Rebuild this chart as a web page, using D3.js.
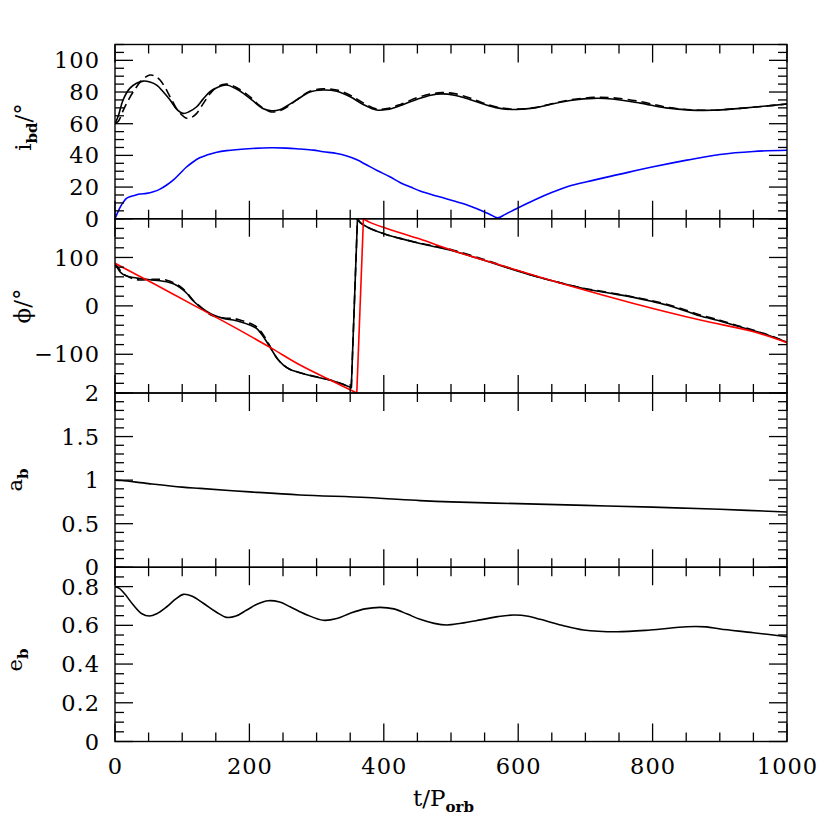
<!DOCTYPE html>
<html><head><meta charset="utf-8">
<script src="https://cdn.jsdelivr.net/npm/d3@7"></script>
<style>body{margin:0;background:#fff}svg{display:block}</style>
</head><body><svg id="c" width="830" height="830"></svg>
<script>
// ---------- data ----------
const inclSolid = [[0,60],[5,65],[12,75],[22,82.3],[32,85.5],[42,86.9],[52,86.3],[62,84.4],[72,80],[82,74.9],[92,69],[101.7,66.5],[110,67.5],[121.6,70.7],[131,75.5],[141.4,80.2],[153,83],[166,84.4],[178,82.5],[191,79.2],[205,74.5],[220.8,69.5],[233,68.2],[245,68.8],[257,71.5],[270,74.9],[290,80],[310,81.3],[330,80.5],[350,77],[370,72],[389.6,68.6],[405,69],[425,71.5],[450,75.5],[470,78],[486,78.8],[505,78],[530,75],[555,71.5],[575,69.5],[598,69],[625,70],[650,72.4],[680,74.8],[712,76],[740,75.6],[781.6,73],[820,70],[856,68.6],[890,68.5],[930,69.7],[965,71],[1000,72.4]];
const inclDashed = [[0,60],[5,61.5],[12.4,68.6],[20,75],[27.3,80.2],[40,87.5],[52,90.7],[60,90],[67,87.6],[75,82.5],[82,77],[95,67.5],[106.7,63.4],[114,64],[121.6,66.5],[131,72.5],[141.4,79],[153,83.5],[166,85],[180,83],[201,77],[215,71.5],[230.8,67.6],[245,68.2],[258,71],[270,75],[290,80.5],[310,82],[330,81.3],[350,78],[370,73],[389.6,69.2],[405,69.6],[425,72.2],[450,76.5],[470,78.8],[486,79.6],[505,79],[530,76],[555,72],[575,70],[598,69.2],[625,70.2],[650,72.6],[680,75.2],[712,76.6],[740,76.4],[781.6,74],[820,70.5],[856,68.8],[890,68.5],[930,69.7],[965,71],[1000,72.4]];
const inclBinary = [[0,0],[4,4],[8,7.5],[12.4,10.5],[17,12.8],[22.3,13.9],[30,14.8],[36.7,15.6],[47,16],[57,17],[67,18.7],[77,21.3],[87,24.5],[96.8,28.6],[106,32.5],[116.6,36],[126,38.5],[136.5,40.2],[150,41.8],[166,43],[198,44.2],[233,44.8],[255,44.6],[275,44],[295,43.3],[310,42.3],[330,41.2],[345,39.6],[360,37.2],[374.7,33.9],[390,30.5],[409,26.5],[424,22.9],[440,20],[454,17.5],[480,14.2],[513.6,10.1],[530,7.8],[543,5.5],[556,3.2],[569.7,0.6],[580,2.6],[598,6.5],[625,12],[652.5,17],[675,20.5],[702,23.4],[750,28],[801,32.8],[851,37],[900,40.6],[950,42.5],[1000,43.2]];
const phiSolidA = [[0,87],[3,80],[7.4,70.5],[12,65],[17.4,61.6],[27,58.5],[37,56.5],[52,54],[67,51.9],[77,49.9],[87,45.5],[96.8,38],[106,27],[116.6,10],[126.5,-1.8],[136,-11],[146.4,-19],[161.3,-25.8],[176,-29.3],[186,-32.8],[201,-39.7],[211,-47],[220.8,-63.9],[233.3,-91.3],[242,-110],[250.6,-122.3],[260,-131],[270.5,-136.2],[290,-144],[320,-153.3],[335,-160],[350,-168.4],[351.6,-170]];
const phiSolidB = [[360.8,180],[365,172],[370,167],[379.6,160],[404.4,147],[424,139.5],[454,129],[480,121],[503.7,113.3],[548,94.6],[580,80.5],[623,62.2],[660,48.5],[697,36],[735,26.5],[771.7,17.5],[800,9],[821,1.7],[850,-11],[871,-21],[900,-31],[920.6,-39.7],[950.6,-51.4],[975,-62],[1000,-74.8]];
const phiDashedA = [[0,87],[3,82],[7.4,74],[12,67],[17.4,62],[27,56],[37,53.5],[52,54.5],[67,55],[77,53],[87,48],[96.8,40],[106,29],[116.6,11],[126.5,-1],[136,-13],[146.4,-21],[161.3,-25],[176,-26],[186,-29],[201,-36],[211,-44],[220.8,-60],[233.3,-90],[242,-110],[250.6,-122.3],[260,-131],[270.5,-136],[290,-143.5],[320,-153],[335,-160],[350,-168.4],[351.6,-170]];
const phiDashedB = [[360.8,180],[365,172],[370,167],[379.6,160],[404.4,147],[424,139.5],[454,129.5],[480,122.5],[503.7,115],[548,96.5],[580,81.5],[623,62.5],[660,48.5],[697,36.5],[735,27.5],[771.7,18.5],[800,10.5],[821,3.5],[850,-9],[871,-19],[900,-29.5],[920.6,-38.5],[950.6,-50.5],[975,-61.5],[1000,-74.8]];
const phiFitA = [[0,88],[60,44],[121.6,-2],[180,-46],[233.3,-87.9],[275.4,-122.3],[325.4,-156.8],[359.8,-180]];
const phiFitB = [[369.7,180],[380,172],[404.4,160],[424,151],[454,138],[503.7,113.9],[573,84.3],[672.5,43],[771.7,5],[871,-29.3],[950.6,-53.5],[1000,-76]];
const semiMajor = [[0,1.0],[10,0.995],[50,0.96],[100,0.92],[126.5,0.905],[201,0.865],[275,0.83],[374.7,0.8],[454,0.765],[500,0.75],[600,0.73],[700,0.71],[800,0.69],[900,0.665],[1000,0.635]];
const eccentricity = [[0,0.8],[7,0.79],[15,0.76],[27.3,0.705],[40,0.66],[51,0.648],[62,0.66],[77,0.696],[90,0.735],[101.7,0.76],[115,0.75],[131.5,0.714],[150,0.67],[166,0.641],[180,0.648],[196,0.679],[212,0.71],[228,0.727],[245,0.72],[260.5,0.696],[285,0.655],[310,0.626],[330,0.635],[350,0.662],[372,0.685],[394.5,0.693],[415,0.685],[435,0.658],[454,0.631],[475,0.61],[493.8,0.602],[515,0.611],[543.4,0.628],[570,0.645],[593,0.653],[615,0.647],[632.7,0.631],[665,0.6],[697,0.576],[747,0.567],[796.5,0.576],[851,0.593],[880,0.592],[900.7,0.581],[950,0.562],[1000,0.541]];

const xTickLabels = [0,200,400,600,800,1000];
const inclTickLabels = [0,20,40,60,80,100];
const phiTickLabels = [-100,0,100];
const aTickLabels = [0,0.5,1,1.5,2];
const eTickLabels = [0,0.2,0.4,0.6,0.8];

// ---------- layout ----------
const L = 115, R = 787, T0 = 44.5, PH = 174.25;
const FONT = "'DejaVu Serif', serif";
const svg = d3.select("#c");
const x = d3.scaleLinear().domain([0,1000]).range([L,R]);

const panels = [
  {domain:[0,110], minor:5, major:20, labels:inclTickLabels, fmt:d=>String(d),
   series:[{d:[inclBinary],c:"#0000ff"},{d:[inclDashed],c:"#000",dash:"9,5"},{d:[inclSolid],c:"#000"}]},
  {domain:[-180,180], minor:20, major:100, labels:phiTickLabels, fmt:d=>d<0?"\u2212"+Math.abs(d):String(d),
   series:[{d:[phiDashedA,phiDashedB],c:"#000",dash:"9,5"},{d:[phiSolidA,phiSolidB],c:"#000"},{d:[phiFitA,phiFitB],c:"#ff0000"}]},
  {domain:[0,2], minor:0.1, major:0.5, labels:aTickLabels, fmt:d=>String(d),
   series:[{d:[semiMajor],c:"#000"}]},
  {domain:[0,0.9], minor:0.05, major:0.2, labels:eTickLabels, fmt:d=>String(d),
   series:[{d:[eccentricity],c:"#000"}]}
];

const line = d3.line().x(d=>x(d[0])).y(d=>d[1]).curve(d3.curveCatmullRom.alpha(0.5));

panels.forEach((p,i)=>{
  const top = T0 + i*PH, bot = top + PH;
  const y = d3.scaleLinear().domain(p.domain).range([bot, top]);
  const g = svg.append("g");
  const cid = "clip"+i;
  svg.append("clipPath").attr("id",cid).append("rect").attr("x",L).attr("y",top).attr("width",R-L).attr("height",PH);
  const dg = g.append("g").attr("clip-path",`url(#${cid})`);
  p.series.forEach(s=>{
    const segs = s.d.map(seg=>seg.map(d=>[d[0], y(d[1])]));
    segs.forEach(seg=>{
      dg.append("path").attr("d", line(seg)).attr("fill","none")
        .attr("stroke", s.c).attr("stroke-width",1.6)
        .attr("stroke-dasharray", s.dash||null).attr("stroke-linejoin","round");
    });
    if (s.d.length>1) {
      const a = s.d[0][s.d[0].length-1], b = s.d[1][0];
      dg.append("path").attr("d", d3.line()([[x(a[0]), y(a[1])],[x(b[0]), y(b[1])]]))
        .attr("fill","none").attr("stroke", s.c).attr("stroke-width",1.6)
        .attr("stroke-dasharray", s.dash||null);
    }
  });
  g.append("rect").attr("x",L).attr("y",top).attr("width",R-L).attr("height",PH)
    .attr("fill","none").attr("stroke","#000").attr("stroke-width",1.4);
  const k0 = Math.ceil(p.domain[0]/p.minor - 1e-9), k1 = Math.floor(p.domain[1]/p.minor + 1e-9);
  for (let k=k0;k<=k1;k++){
    const v = k*p.minor;
    const isMaj = Math.abs(v/p.major - Math.round(v/p.major))<1e-6;
    const len = isMaj?18:9;
    const yy = y(v);
    g.append("line").attr("x1",L).attr("x2",L+len).attr("y1",yy).attr("y2",yy).attr("stroke","#000").attr("stroke-width",1.3);
    g.append("line").attr("x1",R).attr("x2",R-len).attr("y1",yy).attr("y2",yy).attr("stroke","#000").attr("stroke-width",1.3);
  }
  for (let t=0;t<=1000;t+=50){
    const len = (t%200===0)?18:9;
    const xx = x(t);
    g.append("line").attr("x1",xx).attr("x2",xx).attr("y1",bot).attr("y2",bot-len).attr("stroke","#000").attr("stroke-width",1.3);
    g.append("line").attr("x1",xx).attr("x2",xx).attr("y1",top).attr("y2",top+len).attr("stroke","#000").attr("stroke-width",1.3);
  }
  p.labels.forEach(v=>{
    svg.append("text").attr("x",100).attr("y",y(v)).attr("dy","0.36em")
      .attr("text-anchor","end").attr("font-family",FONT).attr("font-size",22.5)
      .attr("letter-spacing","1px").text(p.fmt(v));
  });
  if (i===3){
    xTickLabels.forEach(t=>{
      svg.append("text").attr("x",x(t)+0.5).attr("y",774).attr("text-anchor","middle")
        .attr("font-family",FONT).attr("font-size",22.5).attr("letter-spacing","1px").text(t);
    });
  }
});

const xt = svg.append("text").attr("x",413).attr("y",806).attr("font-family",FONT).attr("font-size",23);
xt.append("tspan").text("t/P");
xt.append("tspan").attr("dy",6).attr("font-size",15).attr("font-weight","bold").text("orb");

function ytitle(cx, cy, main, sub, tail, fs){
  const t = svg.append("text").attr("transform",`translate(${cx},${cy}) rotate(-90)`)
    .attr("text-anchor","middle").attr("font-family",FONT).attr("font-size",fs);
  t.append("tspan").text(main);
  if (sub) t.append("tspan").attr("dy",6).attr("font-size",15).attr("font-weight","bold").text(sub);
  if (tail) t.append("tspan").attr("dy",sub?-6:0).text(tail);
}
ytitle(31,127,"i","bd","/\u00b0",23);
ytitle(30,306,"\u03d5",null,"/\u00b0",23);
ytitle(22,480,"a","b",null,21);
ytitle(22,660,"e","b",null,21);
</script></body></html>
